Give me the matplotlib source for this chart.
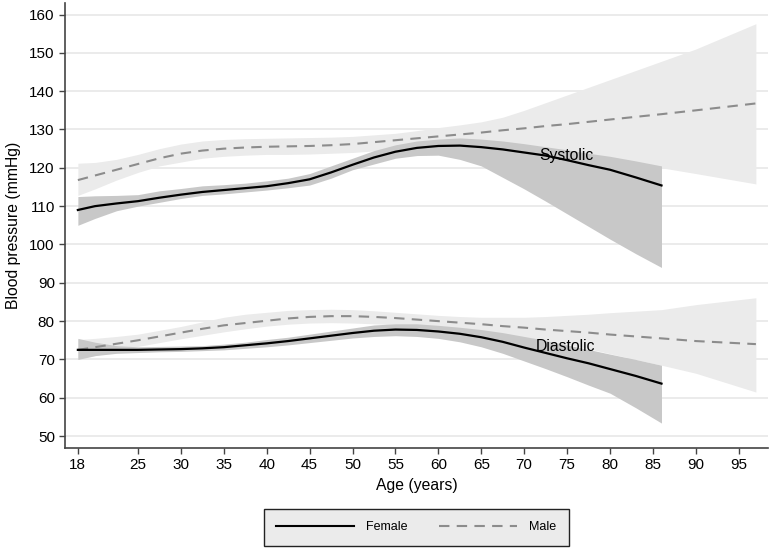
import numpy as np
import matplotlib.pyplot as plt
from matplotlib.lines import Line2D

plt.rcParams['font.family'] = ['Liberation Sans', 'DejaVu Sans']

# Age grid (years)
male_age = [18, 20, 22.5, 25, 27.5, 30, 32.5, 35, 37.5, 40, 42.5, 45, 47.5, 50, 52.5, 55,
            57.5, 60, 62.5, 65, 67.5, 70, 72.5, 75, 77.5, 80, 83, 86, 90, 97]
female_age = male_age[:28]

# Female systolic: fit and 95% CI
female_sys = [109, 110, 110.7, 111.3, 112.2, 113, 113.7, 114.2, 114.7, 115.2, 116, 117, 118.8, 120.8,
              122.7, 124.2, 125.2, 125.7, 125.8, 125.4, 124.8, 124, 123.2, 122, 120.7, 119.5, 117.5, 115.4]
female_sys_lo = [105, 106.8, 108.8, 110, 111, 112, 112.8, 113.2, 113.7, 114.2, 114.8, 115.5, 117.3, 119.5,
                 121, 122.5, 123.2, 123.3, 122.2, 120.5, 117.5, 114.5, 111.3, 108, 104.7, 101.4, 97.6, 94]
female_sys_hi = [112.5, 112.7, 112.8, 113, 114, 114.6, 115.3, 115.6, 116, 116.6, 117.3, 118.5, 120.5, 122.5,
                 124.5, 126, 127, 127.5, 127.8, 127.5, 127, 126.3, 125.5, 124.7, 123.8, 123, 121.8, 120.5]

# Female diastolic
female_dia = [72.5, 72.5, 72.5, 72.5, 72.6, 72.7, 72.9, 73.2, 73.7, 74.2, 74.8, 75.5, 76.2, 76.9,
              77.5, 77.8, 77.7, 77.3, 76.7, 75.8, 74.6, 73.1, 71.7, 70.3, 69, 67.5, 65.7, 63.7]
female_dia_lo = [70, 71, 71.6, 71.8, 72, 72.1, 72.3, 72.5, 72.9, 73.3, 73.8, 74.4, 75, 75.6,
                 76, 76.2, 76, 75.5, 74.6, 73.3, 71.6, 69.6, 67.6, 65.5, 63.3, 61.2, 57.4, 53.4]
female_dia_hi = [75.5, 74.5, 73.6, 73.3, 73.4, 73.5, 73.6, 74, 74.5, 75.2, 75.8, 76.6, 77.4, 78.2,
                 79, 79.3, 79.3, 78.9, 78.4, 77.8, 77, 76, 75, 73.8, 72.6, 71.4, 70, 68.5]

# Male systolic
male_sys = [116.8, 118, 119.5, 121, 122.5, 123.7, 124.5, 125, 125.3, 125.5, 125.6, 125.7, 125.9, 126.2, 126.7,
            127.2, 127.7, 128.2, 128.7, 129.2, 129.8, 130.3, 130.9, 131.4, 132, 132.6, 133.3, 134, 135, 136.8]
male_sys_lo = [112.8, 114.5, 116.8, 118.8, 120.5, 121.5, 122.5, 123, 123.3, 123.5, 123.5, 123.6, 123.8, 124,
               124.4, 124.8, 125.2, 125.6, 125.7, 125.7, 125.3, 124.8, 124.2, 123.5, 122.9, 122.2, 121.2, 120,
               118.5, 115.8]
male_sys_hi = [121.2, 121.4, 122.2, 123.5, 125, 126.2, 127, 127.4, 127.6, 127.7, 127.8, 127.9, 128, 128.2,
               128.6, 129, 129.7, 130.5, 131.2, 132, 133.2, 135, 137, 139, 141, 143, 145.4, 147.8, 151, 157.6]

# Male diastolic
male_dia = [72.5, 73.2, 74.1, 75, 76, 77, 78, 78.9, 79.5, 80.1, 80.7, 81.1, 81.3, 81.3, 81.1, 80.8, 80.4,
            80, 79.6, 79.2, 78.7, 78.3, 77.8, 77.4, 77, 76.5, 76, 75.5, 74.8, 74]
male_dia_lo = [70, 71, 72.2, 73.4, 74.4, 75.4, 76.3, 77.2, 78, 78.7, 79.2, 79.5, 79.6, 79.5, 79.3, 79, 78.7,
               78.3, 77.8, 77.3, 76.6, 75.8, 75, 74, 72.8, 71.5, 70, 68.5, 66.4, 61.5]
male_dia_hi = [75.2, 75.5, 76, 76.6, 77.6, 78.6, 79.8, 81, 81.8, 82.3, 82.8, 83, 83.1, 83, 82.7, 82.3, 81.9,
               81.5, 81.2, 81, 81, 81, 81.2, 81.5, 81.8, 82.2, 82.6, 83, 84.3, 86.1]

x_ticks = [18, 25, 30, 35, 40, 45, 50, 55, 60, 65, 70, 75, 80, 85, 90, 95]
y_ticks = list(range(50, 161, 10))

male_band = '#ebebeb'
female_band = '#c8c8c8'
male_line = '#8c8c8c'
dash = (0, (5, 3.5))

fig = plt.figure(figsize=(7.71, 5.48), dpi=100)
ax = fig.add_axes([0.0843, 0.1825, 0.9117, 0.812])

# bands: male underneath, female on top
ax.fill_between(male_age, male_sys_lo, male_sys_hi, color=male_band, lw=0, zorder=2)
ax.fill_between(male_age, male_dia_lo, male_dia_hi, color=male_band, lw=0, zorder=2)
ax.fill_between(female_age, female_sys_lo, female_sys_hi, color=female_band, lw=0, zorder=3)
ax.fill_between(female_age, female_dia_lo, female_dia_hi, color=female_band, lw=0, zorder=3)

ax.plot(male_age, male_sys, color=male_line, lw=1.5, linestyle=dash, zorder=4)
ax.plot(male_age, male_dia, color=male_line, lw=1.5, linestyle=dash, zorder=4)
ax.plot(female_age, female_sys, color='black', lw=1.6, zorder=5)
ax.plot(female_age, female_dia, color='black', lw=1.6, zorder=5)

ax.text(71.7, 123.3, 'Systolic', fontsize=11.3, va='center', ha='left', zorder=6)
ax.text(71.4, 73.4, 'Diastolic', fontsize=11.3, va='center', ha='left', zorder=6)

ax.set_xlim(16.5, 98.4)
ax.set_ylim(46.9, 163)
ax.set_xticks(x_ticks)
ax.set_yticks(y_ticks)
ax.tick_params(labelsize=11, length=4.3, width=1, color='#444444', pad=3)
ax.grid(axis='y', color='#e8e8e8', lw=1.2, zorder=0)
ax.set_axisbelow(True)
for s in ['top', 'right']:
    ax.spines[s].set_visible(False)
for s in ['left', 'bottom']:
    ax.spines[s].set_color('#444444')
    ax.spines[s].set_linewidth(1.2)

ax.set_xlabel('Age (years)', fontsize=11.3, labelpad=4)
ax.set_ylabel('Blood pressure (mmHg)', fontsize=11.3, labelpad=6)

handles = [Line2D([], [], color='black', lw=1.5),
           Line2D([], [], color=male_line, lw=1.5, linestyle=dash)]
leg = fig.legend(handles, ['Female', 'Male'], loc='center', bbox_to_anchor=(0.540, 0.0383),
                 ncol=2, fontsize=9, handlelength=6.2, columnspacing=2.5, handletextpad=1.0,
                 fancybox=False, framealpha=1, borderpad=1.0)
leg.get_frame().set_facecolor('#ebebeb')
leg.get_frame().set_edgecolor('#222222')
leg.get_frame().set_linewidth(1.0)

fig.savefig('out.png', dpi=100)
